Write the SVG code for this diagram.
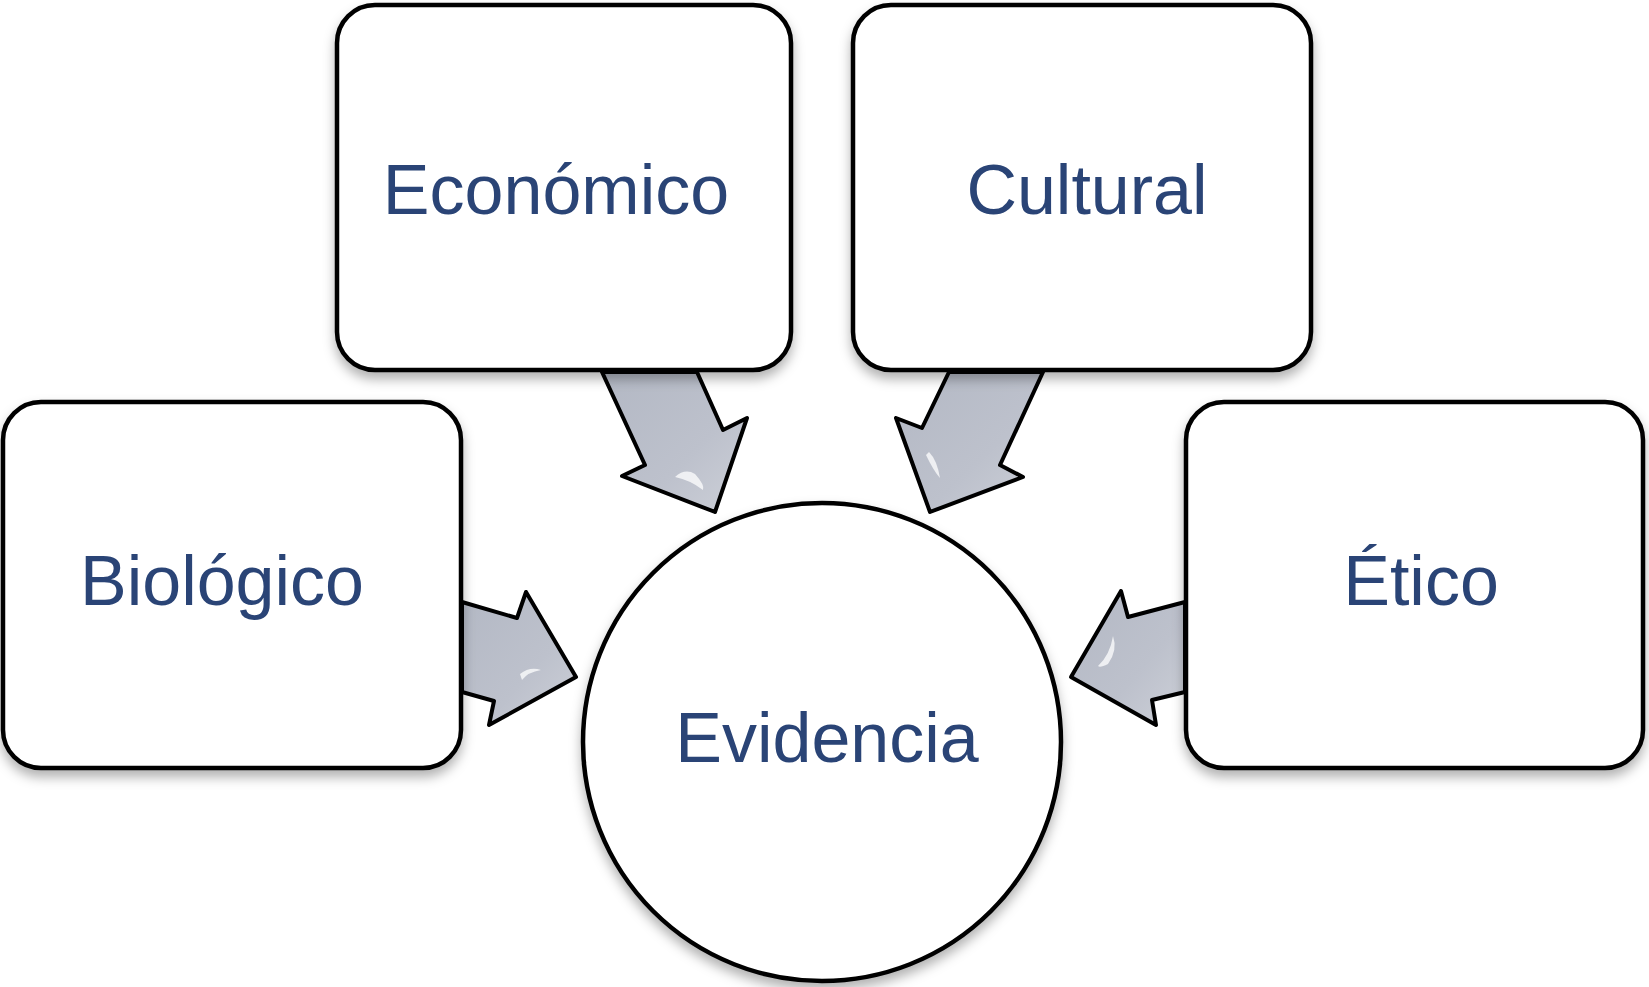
<svg xmlns="http://www.w3.org/2000/svg" width="1649" height="987" viewBox="0 0 1649 987">
<style>
.box{fill:#ffffff;stroke:#000000;stroke-width:4.5;filter:url(#sh)}
.lbl{font-family:"Liberation Sans",Arial,Helvetica,sans-serif;font-size:70px;fill:#2A4476;text-anchor:middle}
.arr{fill:url(#ag);stroke:#000000;stroke-width:4;stroke-linejoin:round}
.hl{fill:#ffffff;opacity:0.75}
</style>
<defs>
<filter id="sh" x="-10%" y="-10%" width="120%" height="130%">
<feDropShadow dx="0" dy="7" stdDeviation="6" flood-color="#000000" flood-opacity="0.3"/>
</filter>
<linearGradient id="ag" x1="0" y1="0" x2="1" y2="1">
<stop offset="0" stop-color="#B3B8C4"/>
<stop offset="0.6" stop-color="#BDC1CC"/>
<stop offset="1" stop-color="#CDD0D8"/>
</linearGradient>
</defs>
<g id="connectors">
<polygon class="arr" points="602,372 697,372 723,430 747,418 715,512 622,476 645,465"/>
<polygon class="arr" points="949,372 1043,372 1000,465 1023,477 930,512 896,418 922,428"/>
<polygon class="arr" points="462,602 517,618 526,592 576,677 489,725 494,701 462,692"/>
<polygon class="arr" points="1185,602 1128,617 1121,591 1071,677 1156,725 1152,700 1185,692"/>
<path class="hl" d="M675,477 Q685,468 695,474 Q705,485 703,490 Q690,480 675,477 Z"/>
<path class="hl" d="M929,452 Q937,460 940,478 Q933,470 926,455 Z"/>
<path class="hl" d="M520,674 Q530,666 541,670 Q528,672 522,680 Z"/>
<path class="hl" d="M1113,636 Q1118,650 1108,664 Q1100,668 1098,666 Q1110,655 1113,636 Z"/>
</g>
<g id="node-economico">
<rect class="box" x="337" y="5" width="454" height="365" rx="38"/>
<text class="lbl" x="556" y="214">Económico</text>
</g>
<g id="node-cultural">
<rect class="box" x="853" y="5" width="458" height="365" rx="38"/>
<text class="lbl" x="1087" y="214">Cultural</text>
</g>
<g id="node-biologico">
<rect class="box" x="3" y="402" width="458" height="366" rx="38"/>
<text class="lbl" x="222" y="605">Biológico</text>
</g>
<g id="node-etico">
<rect class="box" x="1186" y="402" width="457" height="366" rx="38"/>
<text class="lbl" x="1421" y="605">Ético</text>
</g>
<g id="node-evidencia">
<circle class="box" cx="822" cy="742" r="239"/>
<text class="lbl" x="827" y="762">Evidencia</text>
</g>
</svg>
